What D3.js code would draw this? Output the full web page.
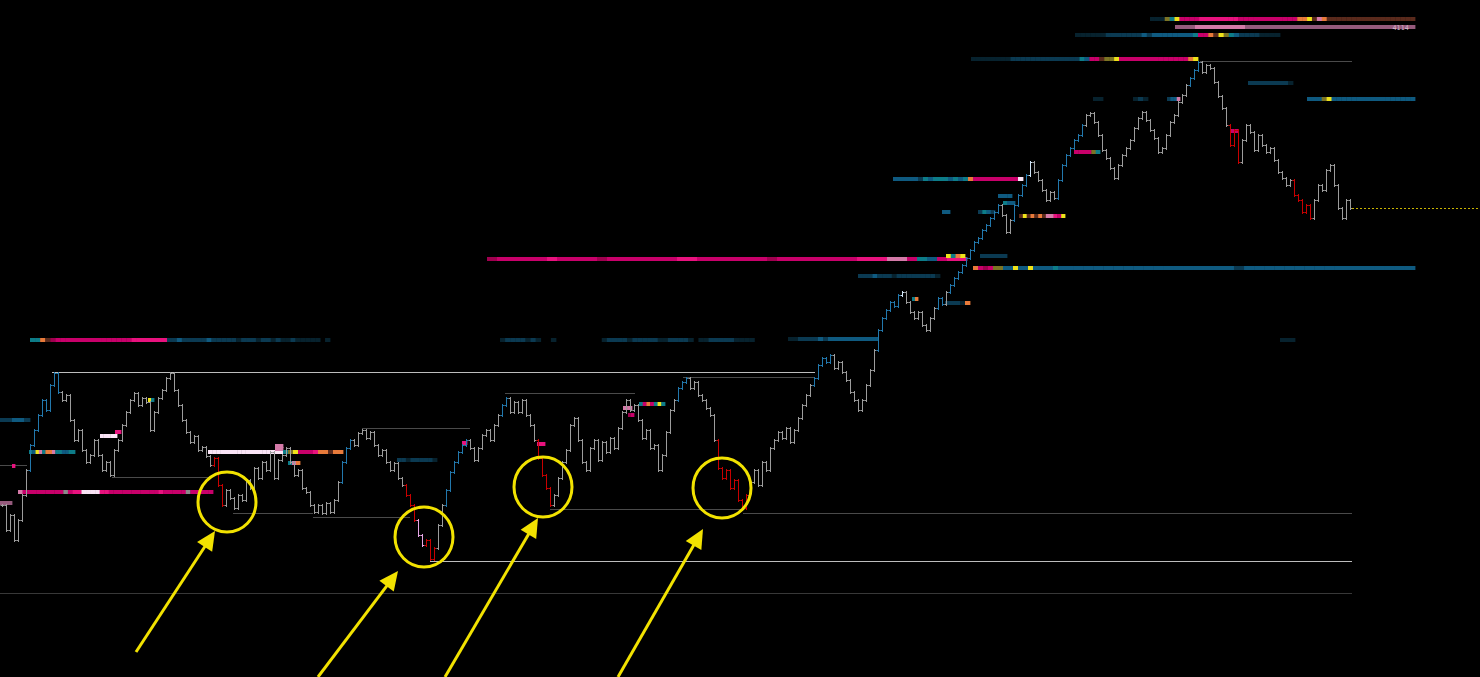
<!DOCTYPE html>
<html><head><meta charset="utf-8">
<script src="https://cdn.jsdelivr.net/npm/d3@7"></script>
<style>html,body{margin:0;padding:0;background:#000;overflow:hidden}svg{display:block}</style>
</head><body><svg id="c" width="1480" height="677"></svg>
<script>
// ---- DATA ----
const closes = [
3636,3611,3626,3601,3621,3646,3671,3696,3711,3726,
3741,3731,3756,3768,3749,3741,3746,3721,3701,3711,
3691,3679,3686,3701,3686,3671,3679,3666,3691,3701,
3716,3729,3741,3748,3736,3743,3739,3711,3729,3743,
3751,3763,3768,3751,3736,3721,3709,3699,3705,3691,
3694,3685,3676,3683,3656,3636,3651,3643,3633,3646,
3641,3661,3653,3673,3663,3679,3671,3689,3663,3681,
3686,3693,3679,3666,3671,3653,3649,3636,3629,3636,
3628,3638,3629,3641,3659,3679,3693,3701,3696,3708,
3711,3703,3709,3696,3686,3691,3679,3671,3678,3663,
3656,3646,3636,3621,3606,3596,3601,3582,3593,3616,
3636,3651,3669,3679,3689,3696,3701,3693,3681,3693,
3706,3711,3701,3716,3726,3736,3743,3729,3739,3729,
3741,3726,3716,3701,3683,3666,3653,3636,3646,3663,
3679,3691,3716,3723,3701,3679,3671,3693,3701,3681,
3699,3689,3703,3693,3713,3729,3741,3731,3736,3721,
3703,3711,3693,3696,3671,3686,3709,3731,3741,3753,
3759,3763,3753,3759,3746,3741,3733,3726,3701,3673,
3663,3671,3653,3661,3641,3633,3646,3659,3671,3656,
3679,3671,3693,3701,3709,3703,3713,3699,3711,3723,
3736,3746,3756,3763,3776,3783,3779,3786,3773,3779,
3769,3761,3749,3741,3731,3741,3756,3771,3791,3811,
3823,3831,3839,3835,3846,3849,3839,3829,3823,3829,
3816,3811,3823,3833,3843,3837,3849,3856,3863,3869,
3876,3883,3891,3899,3903,3911,3916,3923,3929,3936,
3926,3909,3921,3936,3946,3956,3966,3979,3969,3961,
3951,3941,3949,3943,3961,3976,3986,3993,4001,4006,
4016,4026,4028,4019,4006,3991,3983,3973,3963,3976,
3986,3993,4001,4013,4023,4029,4021,4011,4003,3989,
3993,4006,4019,4026,4039,4046,4056,4063,4071,4079,
4069,4076,4073,4059,4045,4033,4016,3996,4011,3979,
4001,4016,4009,3991,4006,3996,3989,3993,3981,3969,
3963,3956,3961,3946,3941,3929,3936,3923,3941,3956,
3951,3971,3976,3956,3933,3923,3941,3933
];
const upSignals = [[7,14],[85,87],[111,116],[125,126],[169,171],[203,207],[219,224],[234,235],[237,249],[253,256],[264,270],[297,299]];
const downSignals = [[53,55],[101,103],[106,108],[134,137],[179,186],[307,309],[323,327]];
const exhaustSignals = [[104,105]];
const peakSignals = [[225,225],[257,257]];

// [price, fromBar, toBar, kind]
const levels = [
[3769,12.5,203.25,'major'],[3764,170.25,203.25,'minor'],[3664,27.5,52.5,'minor'],
[3676,-0.5,6.25,'minor'],[3628,57.75,77.75,'minor'],[3624,77.75,102,'minor'],
[3713,90,117,'minor'],[3748,125.75,158.25,'minor'],[3632,137,185.25,'minor'],
[3628,185.25,337.5,'minor'],[3580,107,337.5,'major'],[3548,-0.5,337.5,'faint'],
[4080,299.5,337.5,'minor']
];

// liquidity heat bands: [price, fromBar, toBar, intensity codes]
const heatBands = [
[3801,7,41.25,"ttonrmmmmmmmmmmmmmmmMMMMMMM"],
[3801,41.25,82,"ddbdddddbdddddfdddfddfdffdfffff f"],
[3801,124.5,197,"fddddfdf  f         fddddfdddddffddddf ffdddddffff       "],
[3802,196.5,219,"ffddddbdbbbbbbbbbb"],
[3801,319.5,323.25,"fff"],
[3721,-0.5,7,"ddbbd"],
[3689,6.75,18.25,"tbyptoopttbbtt"],
[3705,24.5,28.75,"wwwww"],
[3709,28.25,29.75,"M"],
[3649,4,52.75,"pmmmmmmmmmgmMMwwwwMMmmmmmmmmmmmMmmmmmgmmmmm"],
[3638,-0.5,2.5,"qqq"],
[3675,2.5,3.25,"M"],
[3689,51.5,70.25,"wwwwwwwwwwwwwwwwww"],
[3695,68.25,70.25,"pp"],
[3692,68.25,70.25,"pp"],
[3689,70.25,85.25,"tlymmmMoonoo"],
[3678,71.5,74.5,"tpo"],
[3681,98.75,108.75,"ddfdddddf"],
[3698,115,116.25,"M"],
[3737,159.25,165.75,"tmomtyt"],
[3733,155.25,157.5,"pp"],
[3726,156.5,158,"rm"],
[3697,133.75,135.75,"MM"],
[3865,214,234.5,"dddbdddfddddddddf"],
[3882,121.25,241.25,"rmmmmmMmmmmrmmmmmmmMMmmmmmmmrmmmmmmmmMMMppmtbmMM"],
[3885,236,240.75,"ytoy"],
[3873,242.75,265.25,"omrmllbbybbybbbbtb"],
[3873,265.25,353.25,"bbbbbbbbbbbbbbbbbdbbbbbbbbbbbbbbbbb"],
[3885,244.5,251.25,"ddd"],
[3962,222.75,255.25,"bbbbbdtbtttbtbtommmmmmmmmw"],
[3929,235,237,"bb"],
[3929,244,248.25,"dtbd"],
[3945,249,252.5,"bbb"],
[3938,250.25,253.25,"tbb"],
[3925,254.25,265.75,"nynononppMmy"],
[3842,227.5,229,"to"],
[3838,235.75,242,"dddfo"],
[3989,268,274.5,"mmmmlt"],
[4082,242.25,299,"ffffffffddddddddddddddtbmmnllymmmmmmmmmmmmmmoy"],
[4106,268.25,319.5,"ffffffdddddddbdbbbbbbbbtmmonyltbddddffff"],
[4122,287,353.25,"ffflty"+"mmmmMMMMMMMMmmmmmmmmmmmm"+"ooynponnnnnnnnnnnnnnnnnn"],
[4114,293.25,353.25,"qqpppppqqqqqqqqqqqqqqqqq"],
[4042,326.25,353.25,"bbblybbbbbbbbbbbbbbbbb"],
[4042,272.75,275.25,"ff"],
[4042,282.75,286.5,"fdf"],
[4042,291.25,294.5,"dbbp"],
[4058,311.5,322.75,"ddddddddf"],
[4010,307.25,309,"mm"],
[3741,36.5,38,"yt"]
];
const bandLabel = {price: 4114, toBar: 353.25, text: "4114"};

// annotations: circle centres [bar, price]; arrows [tailBar, tailPrice, tipBar, tipPrice]
const circleMarks = [[56.25,3639],[105.5,3604],[135.25,3654],[180,3653]];
const arrowMarks = [[33.5,3489,53.25,3610],[79,3464,99,3570],[110.75,3464,134,3623],[154,3464,175.25,3612]];
const lastPrice = {price: 3933, fromBar: 337.5, toBar: 369.5};

// ---- DRAW ----
const W = 1480, H = 677;
const svg = d3.select('#c');
svg.append('rect').attr('width', W).attr('height', H).attr('fill', '#000');
const x = d3.scaleLinear().domain([0, 369.5]).range([2, 1480]);
const y = d3.scaleLinear().domain([3464, 4141]).range([677, 0]);

const palette = {f:'#07222e',d:'#0b3a52',b:'#0f5a80',t:'#0d7c88',r:'#a0004f',m:'#c8006a',M:'#e8127e',
  p:'#d47aa8',q:'#955a7c',w:'#fae4f6',o:'#e87a3a',y:'#eee21a',l:'#7c7424',n:'#5a2a1c',g:'#8a8a8a'};
const levelColor = {major:'#bdbdbd', minor:'#4a4a4a', faint:'#383838'};

// levels
svg.append('g').selectAll('line').data(levels).join('line')
  .attr('x1', d => x(d[1])).attr('x2', d => x(d[2]))
  .attr('y1', d => Math.round(y(d[0])) + 0.5).attr('y2', d => Math.round(y(d[0])) + 0.5)
  .attr('stroke', d => levelColor[d[3]]).attr('stroke-width', 1);

// heat bands
const cells = [];
heatBands.forEach(b => {
  const [p, f, t, codes] = b;
  const x0 = x(f), w = (x(t) - x0) / codes.length;
  for (let k = 0; k < codes.length; k++) {
    const c = codes[k];
    if (c === ' ') continue;
    cells.push({x: x0 + k * w, w: w, y: y(p), c: c});
  }
});
svg.append('g').selectAll('rect').data(cells).join('rect')
  .attr('x', d => d.x).attr('width', d => d.w + 0.4)
  .attr('y', d => d.y - 2).attr('height', 4)
  .attr('fill', d => palette[d.c]);
svg.append('text').attr('x', x(bandLabel.toBar) - 6).attr('y', y(bandLabel.price) + 2.5)
  .attr('text-anchor', 'end').attr('font-family', 'DejaVu Sans, sans-serif').attr('font-size', 6.5)
  .attr('fill', '#d9b6cc').text(bandLabel.text);

// bars
function inRanges(i, rs) { return rs.some(r => i >= r[0] && i <= r[1]); }
function barColor(i) {
  if (inRanges(i, exhaustSignals)) return '#e6a6e6';
  if (inRanges(i, downSignals)) return '#c80000';
  if (inRanges(i, peakSignals)) return '#cfe3f5';
  if (inRanges(i, upSignals)) return '#2278ad';
  return '#9c9c9c';
}
const bars = closes.map((c, i) => ({i, o: i ? closes[i - 1] : c, c}));
svg.append('g').selectAll('path').data(bars).join('path')
  .attr('d', d => {
    const xi = Math.round(x(d.i)) + 0.5;
    const yo = Math.round(y(d.o)) + 0.5, yc = Math.round(y(d.c)) + 0.5;
    return `M${xi},${Math.min(yo, yc) - 1.5}V${Math.max(yo, yc) + 1.5}M${xi - 2},${yo}H${xi}M${xi},${yc}H${xi + 2}`;
  })
  .attr('fill', 'none').attr('stroke', d => barColor(d.i)).attr('stroke-width', 1);

// last price dotted
svg.append('line').attr('x1', x(lastPrice.fromBar)).attr('x2', x(lastPrice.toBar))
  .attr('y1', Math.round(y(lastPrice.price)) + 0.5).attr('y2', Math.round(y(lastPrice.price)) + 0.5)
  .attr('stroke', '#c9b400').attr('stroke-dasharray', '2,2').attr('stroke-width', 1);

// circles
const YEL = '#f2e200';
svg.append('g').selectAll('ellipse').data(circleMarks).join('ellipse')
  .attr('cx', d => x(d[0])).attr('cy', d => y(d[1])).attr('rx', 29).attr('ry', 30)
  .attr('fill', 'none').attr('stroke', YEL).attr('stroke-width', 3);

// arrows
const ag = svg.append('g');
arrowMarks.forEach(a => {
  const x0 = x(a[0]), y0 = y(a[1]), x1 = x(a[2]), y1 = y(a[3]);
  const ang = Math.atan2(y1 - y0, x1 - x0);
  const L = 19, Wd = 9;
  const bx = x1 - L * Math.cos(ang), by = y1 - L * Math.sin(ang);
  ag.append('line').attr('x1', x0).attr('y1', y0).attr('x2', bx + 2 * Math.cos(ang)).attr('y2', by + 2 * Math.sin(ang))
    .attr('stroke', YEL).attr('stroke-width', 3);
  const px = -Math.sin(ang), py = Math.cos(ang);
  ag.append('path').attr('d', `M${x1},${y1}L${bx + Wd * px},${by + Wd * py}L${bx - Wd * px},${by - Wd * py}Z`)
    .attr('fill', YEL);
});
</script></body></html>
